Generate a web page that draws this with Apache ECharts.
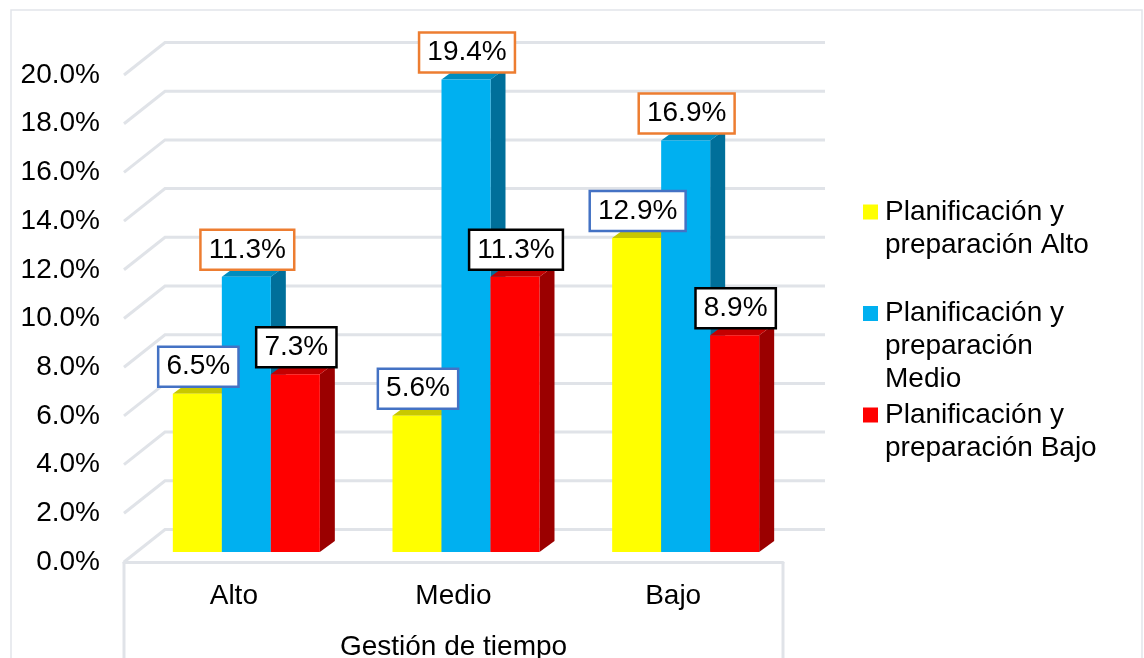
<!DOCTYPE html>
<html><head><meta charset="utf-8">
<style>html,body{margin:0;padding:0;background:#fff;overflow:hidden}#c{width:1144px;height:658px}</style>
<script src="https://cdn.jsdelivr.net/npm/echarts@6/dist/echarts.min.js"></script>
</head><body><div id="c"></div>
<script>
const categories = ['Alto', 'Medio', 'Bajo'];
const seriesNames = ['Planificación y preparación Alto', 'Planificación y preparación Medio', 'Planificación y preparación Bajo'];
const legendLines = [['Planificación y', 'preparación Alto'], ['Planificación y', 'preparación', 'Medio'], ['Planificación y', 'preparación Bajo']];
const valuesAlto = [6.5, 5.6, 12.9];
const valuesMedio = [11.3, 19.4, 16.9];
const valuesBajo = [7.3, 11.3, 8.9];
const gridTicks = [0, 2, 4, 6, 8, 10, 12, 14, 16, 18, 20];
const axisTitle = 'Gestión de tiempo';

const FONT = '"Liberation Sans", Arial, sans-serif';
const FS = 28;
const GRIDC = '#E0E3E8';
const faces = [
  { front: '#FFFF00', top: '#C8C800', side: '#A8A800', box: '#4472C4' },
  { front: '#00B0F0', top: '#008DBF', side: '#006F9A', box: '#ED7D31' },
  { front: '#FF0000', top: '#C40000', side: '#9B0000', box: '#000000' }
];
const legendTops = [198, 299.5, 401];

const BAR_FRAC = 49 / 219.67, START_FRAC = -61 / 219.67, DX = 15, DY = 11, LIFT = 10;

function barSeries(name, values, idx) {
  return {
    name, type: 'custom', z: 3,
    data: values.map((v, i) => [i, v]),
    encode: { x: 0, y: 1 },
    color: faces[idx].front,
    renderItem(params, api) {
      const band = api.size([1, 0])[0];
      const c = api.coord([api.value(0), api.value(1)]);
      const b = api.coord([api.value(0), 0]);
      const w = band * BAR_FRAC;
      const x0 = c[0] + band * START_FRAC + idx * w;
      const x1 = x0 + w, t = c[1] - LIFT, y = b[1] - LIFT;
      const f = faces[idx];
      const val = api.value(1);
      return { type: 'group', children: [
        { type: 'polygon', shape: { points: [[x1, t], [x1 + DX, t - DY], [x1 + DX, y - DY], [x1, y]] }, style: { fill: f.side } },
        { type: 'polygon', shape: { points: [[x0, t], [x0 + DX, t - DY], [x1 + DX, t - DY], [x1, t]] }, style: { fill: f.top } },
        { type: 'rect', shape: { x: x0, y: t, width: w, height: y - t }, style: { fill: f.front } },
        { type: 'text', z2: 100, style: {
            x: (x0 + x1) / 2 + 1, y: t - 27, text: val.toFixed(1) + '%', align: 'center', verticalAlign: 'middle',
            font: FS + 'px ' + FONT, fill: '#000', backgroundColor: '#fff', borderColor: f.box, borderWidth: 2.5,
            padding: [6, 7, 3.5, 7]
        } }
      ] };
    }
  };
}

const wallSeries = {
  type: 'custom', z: 1, silent: true,
  data: gridTicks.map(t => [0, t]),
  encode: { y: 1 },
  renderItem(params, api) {
    const band = api.size([1, 0])[0];
    const p = api.coord([0, api.value(1)]);
    const xL = p[0] - band / 2;
    const xR = xL + band * categories.length;
    const ls = { stroke: GRIDC, lineWidth: 3, fill: null };
    const kids = [{ type: 'polyline', shape: { points: [[xL, p[1]], [xL + 41, p[1] - 32.5], [xR + 42, p[1] - 32.5]] }, style: ls }];
    if (api.value(1) === 0) {
      kids.push({ type: 'line', shape: { x1: xL, y1: p[1], x2: xL, y2: p[1] + 110 }, style: ls });
      kids.push({ type: 'line', shape: { x1: xR, y1: p[1], x2: xR, y2: p[1] + 110 }, style: ls });
    }
    return { type: 'group', children: kids };
  }
};

const legends = seriesNames.map((name, i) => {
  const rich = {
    t: { fontSize: FS, fontFamily: FONT, color: '#000', lineHeight: 33 },
    m: { width: 15, height: 15, backgroundColor: faces[i].front },
    g: { width: 7, height: 15 },
    s: { width: 22, height: 15 }
  };
  return {
    data: [{ name, icon: 'none' }], left: 858, top: legendTops[i], itemWidth: 0, itemHeight: 0, padding: 0,
    selectedMode: false,
    textStyle: { rich, fontSize: FS, fontFamily: FONT },
    formatter: () => legendLines[i].map((l, j) => (j === 0 ? '{m|}{g|}' : '{s|}') + '{t|' + l + '}').join('\n')
  };
});

const chart = echarts.init(document.getElementById('c'), null, { renderer: 'canvas', width: 1144, height: 658 });
chart.setOption({
  animation: false,
  backgroundColor: '#fff',
  graphic: [{ type: 'rect', silent: true, z: 0, shape: { x: 11, y: 10, width: 1131, height: 700 }, style: { fill: 'none', stroke: '#E2E5EA', lineWidth: 1.5 } }],
  legend: legends,
  grid: { left: 124, top: 75, width: 659, height: 487, containLabel: false, outerBoundsMode: 'none' },
  xAxis: {
    type: 'category', data: categories, boundaryGap: true,
    axisLine: { show: true, lineStyle: { color: GRIDC, width: 3 } },
    axisTick: { show: false },
    axisLabel: { color: '#000', fontSize: FS, fontFamily: FONT, margin: 20 },
    name: axisTitle, nameLocation: 'middle', nameGap: 71,
    nameTextStyle: { color: '#000', fontSize: FS, fontFamily: FONT }
  },
  yAxis: {
    type: 'value', min: 0, max: 20, interval: 2,
    axisLine: { show: false }, axisTick: { show: false }, splitLine: { show: false },
    axisLabel: { color: '#000', fontSize: FS, fontFamily: FONT, margin: 24, padding: [2, 0, 0, 0], formatter: v => v.toFixed(1) + '%' }
  },
  series: [wallSeries, barSeries(seriesNames[0], valuesAlto, 0), barSeries(seriesNames[1], valuesMedio, 1), barSeries(seriesNames[2], valuesBajo, 2)]
});
</script></body></html>
